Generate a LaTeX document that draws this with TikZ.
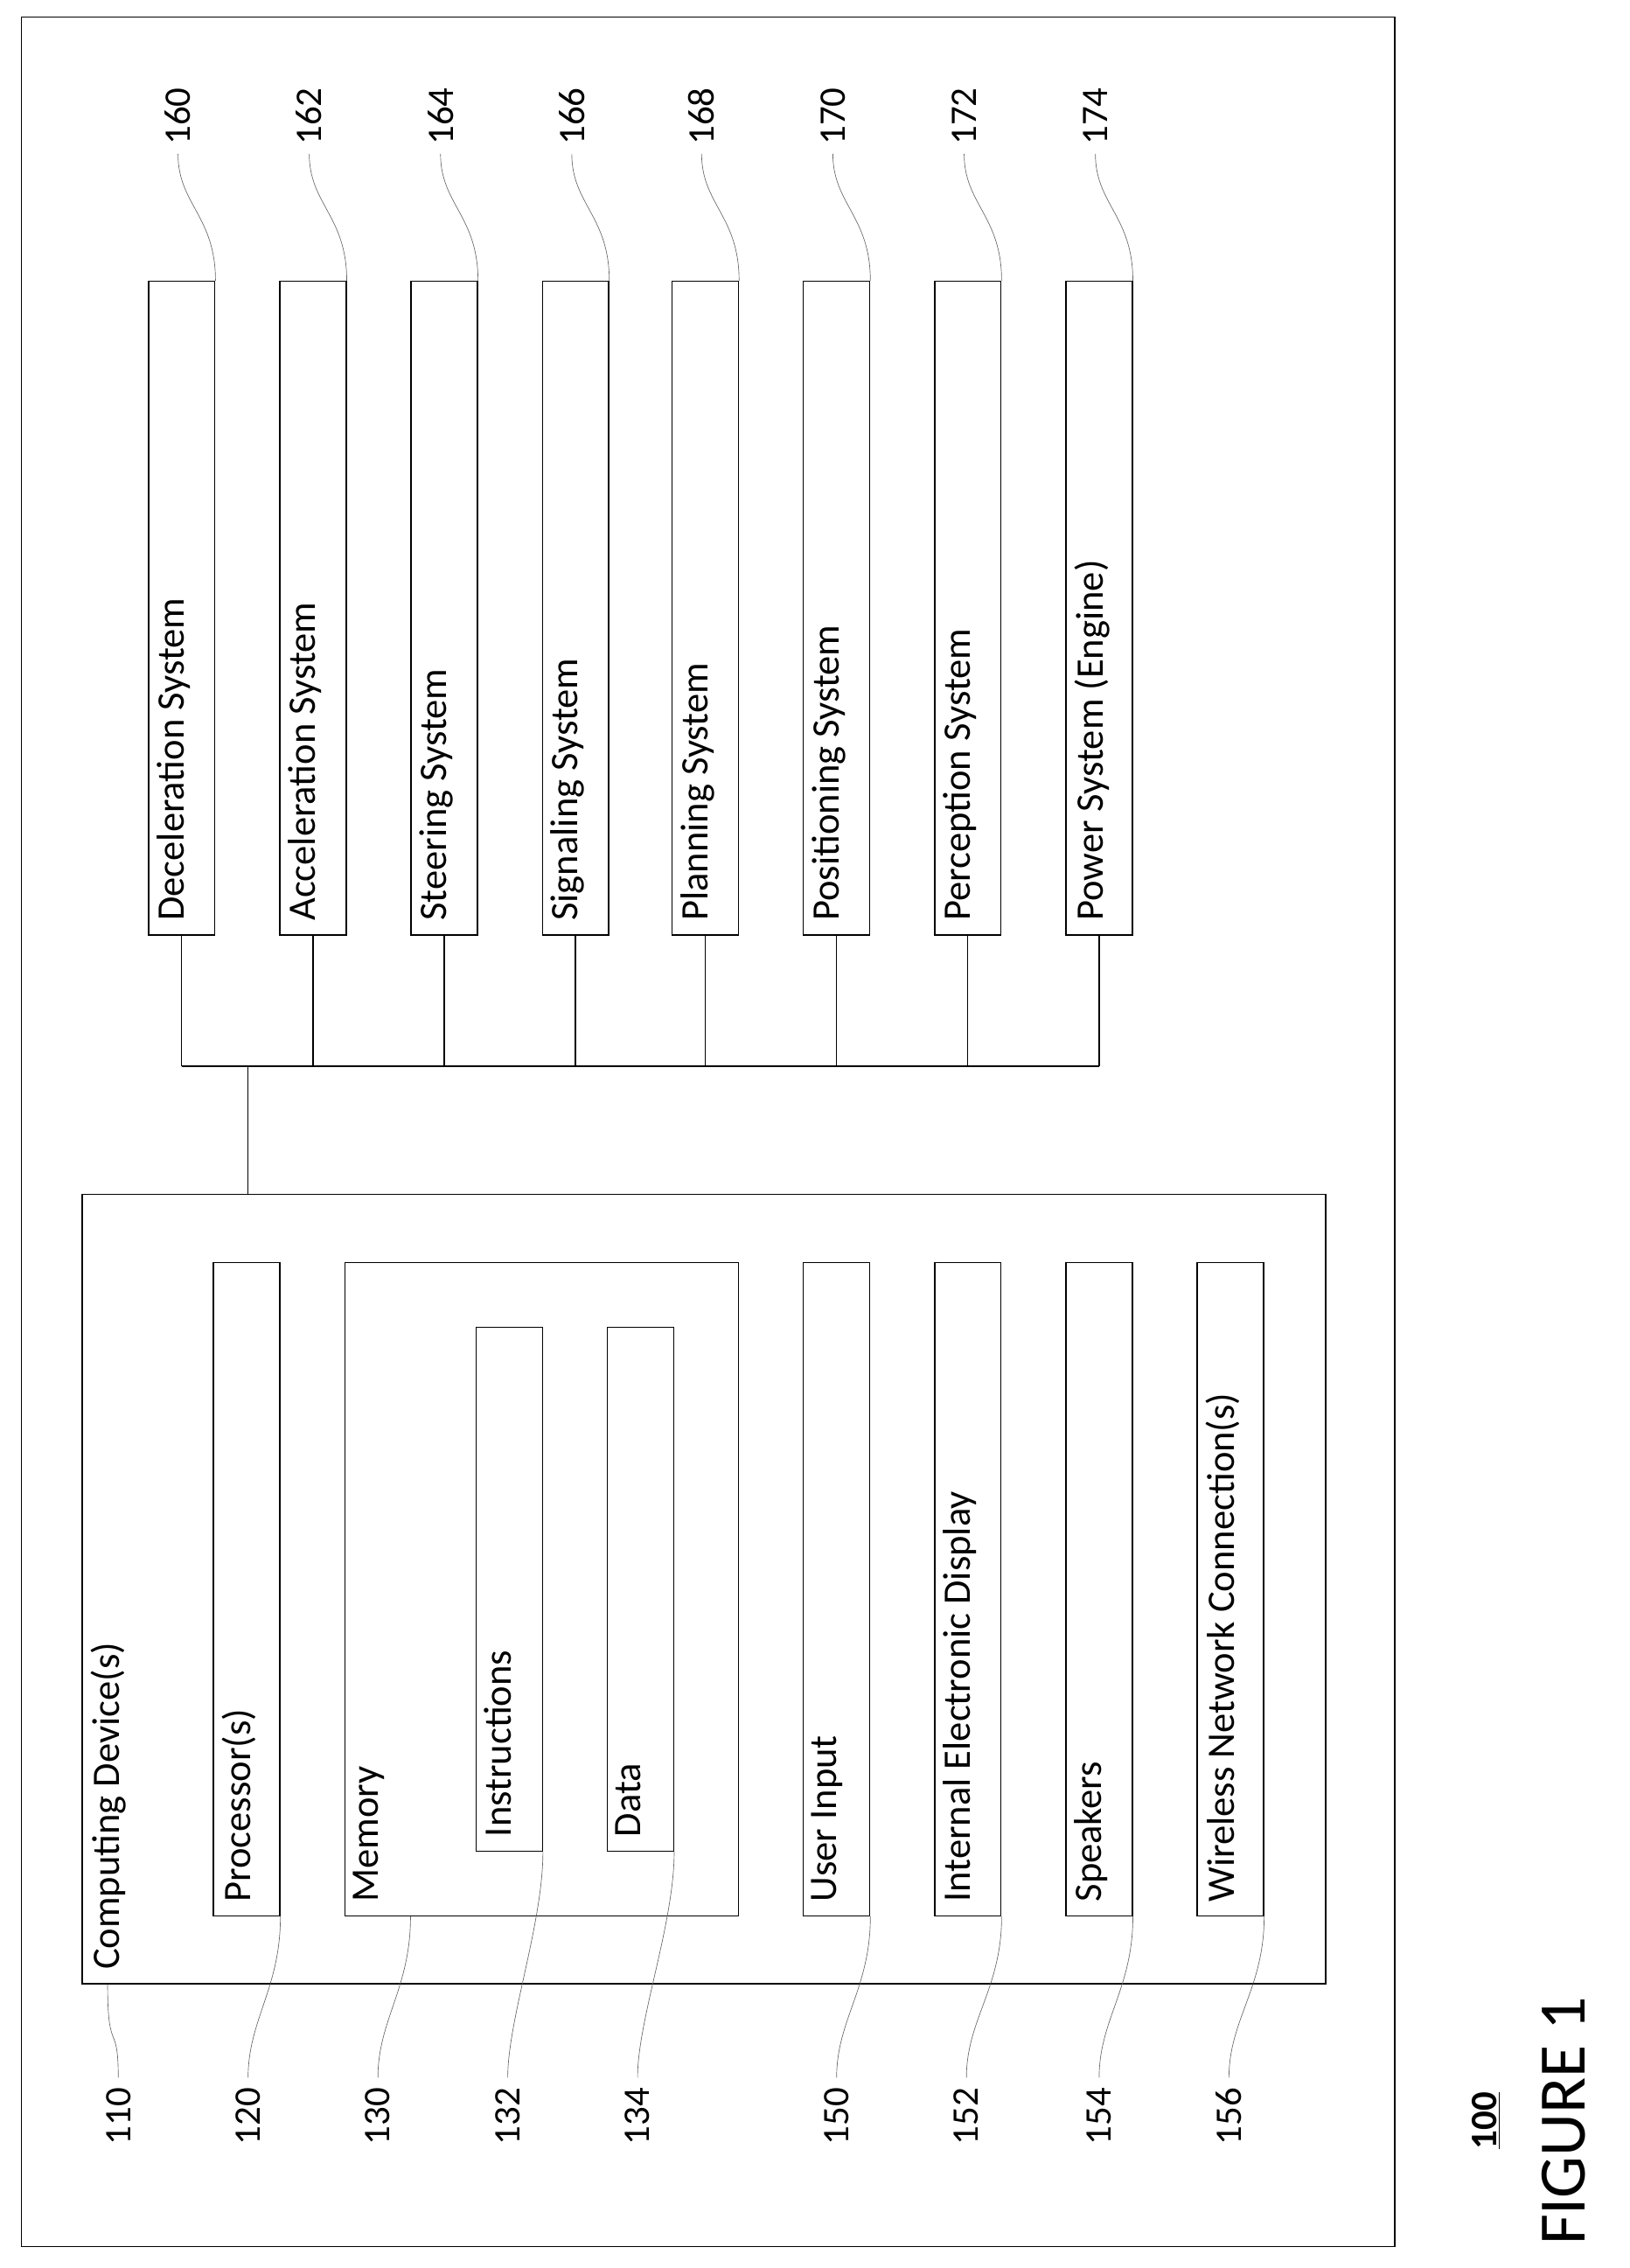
\documentclass[tikz,border=0pt]{standalone}
\usepackage{fontspec}
\setmainfont{Carlito}
\usetikzlibrary{positioning,calc}
\tikzset{
  blk/.style={draw,thick,minimum width=46pt,minimum height=453pt,inner sep=0pt},
  txt/.style={rotate=90,anchor=north west,font=\fontsize{27}{32}\selectfont,inner sep=0pt},
  num/.style={rotate=90,font=\fontsize{26}{30}\selectfont,inner sep=2pt},
  lead/.style={draw,thin,black!60}
}
\begin{document}
\begin{tikzpicture}[x=1pt,y=-1pt]
\useasboundingbox (0,0) rectangle (1130,1572);
\draw[thick] (15,12) rectangle (967,1557);
% vehicle systems
\foreach \i/\x/\t/\n in {1/126/Deceleration System/160,2/217/Acceleration System/162,
  3/308/Steering System/164,4/399/Signaling System/166,5/489/Planning System/168,
  6/580/Positioning System/170,7/671/Perception System/172,8/762/Power System (Engine)/174}{
  \node[blk] (sys\i) at (\x,421.5) {};
  \node[txt] at ($(sys\i.south west)+(6,-10)$) {\t};
  \coordinate (bus\i) at (\x,739);
  \draw[thick] (sys\i.south) -- (bus\i);
  \draw[lead] (sys\i.north east) .. controls +(0,-45) and +(0,35) .. ++(-26,-88) coordinate (ln\i);
  \node[num,anchor=west] at ($(ln\i)+(0,-4)$) {\n};
}
\draw[thick] (bus1) -- (bus8);
% computing device
\node[draw,thick,minimum width=862pt,minimum height=547pt,inner sep=0pt] (cd) at (488,1101.5) {};
\coordinate (tap) at (172,739);
\draw[thick] (tap) -- (tap|-cd.north);
\node[txt] at ($(cd.south west)+(6,-10)$) {Computing Device(s)};
\node[blk] (proc) at (171,1101.5) {};
\node[txt] at ($(proc.south west)+(6,-10)$) {Processor(s)};
\node[draw,thick,minimum width=273pt,minimum height=453pt,inner sep=0pt] (mem) at (375.5,1101.5) {};
\node[txt] at ($(mem.south west)+(6,-10)$) {Memory};
\node[blk,minimum height=363pt] (ins) at (353,1101.5) {};
\node[txt] at ($(ins.south west)+(6,-10)$) {Instructions};
\node[blk,minimum height=363pt] (dat) at (444,1101.5) {};
\node[txt] at ($(dat.south west)+(6,-10)$) {Data};
\node[blk] (uin) at (580,1101.5) {};
\node[txt] at ($(uin.south west)+(6,-10)$) {User Input};
\node[blk] (disp) at (671,1101.5) {};
\node[txt] at ($(disp.south west)+(6,-10)$) {Internal Electronic Display};
\node[blk] (spk) at (762,1101.5) {};
\node[txt] at ($(spk.south west)+(6,-10)$) {Speakers};
\node[blk] (wnc) at (853,1101.5) {};
\node[txt] at ($(wnc.south west)+(6,-10)$) {Wireless Network Connection(s)};
% reference numerals
\coordinate (cdfoot) at ($(cd.south west)+(18,0)$);
\coordinate (memfoot) at ($(mem.south west)+(46,0)$);
\foreach \b/\x/\n in {cdfoot/82/110,proc.south east/172/120,memfoot/262/130,
  ins.south east/352/132,dat.south east/442/134,uin.south east/580/150,
  disp.south east/670/152,spk.south east/762/154,wnc.south east/852/156}{
  \coordinate (end\n) at (\x,1440);
  \draw[lead] (\b) .. controls +(0,50) and +(0,-40) .. (end\n);
  \node[num,anchor=east] at ($(end\n)+(0,5)$) {\n};
}
\node[rotate=90,font=\fontsize{26}{30}\selectfont\bfseries] (fig) at (1030,1470) {\underline{100}};
\node[rotate=90,font=\fontsize{46}{52}\selectfont,right=22pt of fig.south,anchor=north] {FIGURE 1};
\end{tikzpicture}
\end{document}
